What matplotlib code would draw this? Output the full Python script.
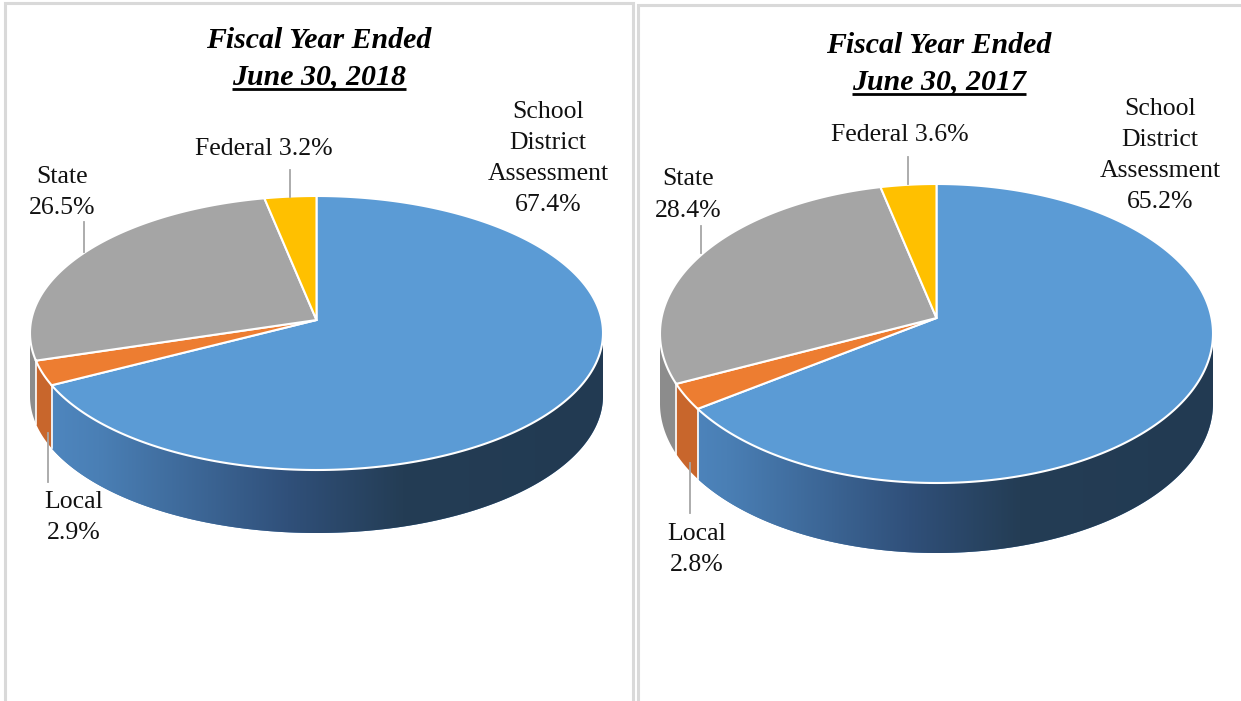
import numpy as np
import matplotlib
matplotlib.use("Agg")
import matplotlib.pyplot as plt
from matplotlib.patches import Polygon
from matplotlib.colors import LinearSegmentedColormap

# ---------------- data ----------------
categories = ["School District Assessment", "Local", "State", "Federal"]
label_names = [["School", "District", "Assessment"], ["Local"], ["State"], ["Federal"]]
values_2018 = [67.4, 2.9, 26.5, 3.2]
values_2017 = [65.2, 2.8, 28.4, 3.6]
titles = [("Fiscal Year Ended", "June 30, 2018"), ("Fiscal Year Ended", "June 30, 2017")]

# ---------------- style ----------------
top_colors = ["#5B9BD5", "#ED7D31", "#A5A5A5", "#FFC000"]
side_colors = ["#4A7FB5", "#C8662C", "#8C8C8C", "#C99A00"]
SERIF = ["Liberation Serif", "DejaVu Serif"]
W, H = 1241, 701

fig = plt.figure(figsize=(W / 100, H / 100), dpi=100)
ax = fig.add_axes([0, 0, 1, 1])
ax.set_xlim(0, W)
ax.set_ylim(H, 0)
ax.axis("off")

# panel borders
bc = "#D9D9D9"
ax.plot([5, 5, 633, 633], [H + 5, 3, 3, H + 5], color=bc, lw=2.2, solid_joinstyle="miter")
ax.plot([638, 638, W + 5], [H + 5, 5, 5], color=bc, lw=2.2, solid_joinstyle="miter")

blue_cmap = LinearSegmentedColormap.from_list(
    "side", [(0.0, "#5089C2"), (0.12, "#4A7FB5"), (0.45, "#30507A"),
             (0.65, "#243D55"), (1.0, "#223A52")])

# geometry of each 3-D pie (screen pixels): centre x, apex y, top y, front y of top face,
# half width, thickness
pies = [
    dict(vals=values_2018, cx=316.5, apex=320, top=196, front=470, rx=286.5, depth=63,
         title=titles[0], tx=319, tb=(48, 84), ul=89,
         labels=[(548, 118, 31), (74, 508, 31), (62, 183, 31), (264, 155, 31)],
         leaders=[None, ((48, 433), (48, 482)), ((84, 222), (84, 252)), ((290, 170), (290, 197))]),
    dict(vals=values_2017, cx=936.5, apex=318, top=184, front=483, rx=276.5, depth=70,
         title=titles[1], tx=939, tb=(53, 89), ul=94,
         labels=[(1160, 115, 31), (697, 540, 31), (688, 185, 32), (900, 141, 31)],
         leaders=[None, ((690, 463), (690, 513)), ((701, 226), (701, 253)), ((908, 157), (908, 184))]),
]

for p in pies:
    up, dn = p["apex"] - p["top"], p["front"] - p["apex"]
    c = (dn - up) / (dn + up)
    p["c"] = c
    p["b"] = up * (1 + c)
    p["a"] = p["rx"] * np.sqrt(1 - c * c)


def proj(p, th):
    """Perspective projection of a point on the pie rim (th clockwise from 12 o'clock)."""
    t = np.radians(th)
    d = 1 + p["c"] * np.cos(t)
    return p["cx"] + p["a"] * np.sin(t) / d, p["apex"] - p["b"] * np.cos(t) / d


for p in pies:
    vals = np.array(p["vals"], dtype=float)
    bounds = np.concatenate([[0], np.cumsum(vals) / vals.sum() * 360.0])
    vis_lo = np.degrees(np.arccos(-p["c"]))
    vis_hi = 360 - vis_lo
    # side walls (front silhouette part)
    for i in range(len(vals)):
        lo, hi = max(bounds[i], vis_lo), min(bounds[i + 1], vis_hi)
        if lo >= hi:
            continue
        ts = np.linspace(lo, hi, 200)
        xs, ys = proj(p, ts)
        pts = np.column_stack([np.concatenate([xs, xs[::-1]]),
                               np.concatenate([ys, ys[::-1] + p["depth"]])])
        poly = Polygon(pts, closed=True, facecolor=side_colors[i], edgecolor="none", zorder=1)
        ax.add_patch(poly)
        if i == 0:
            x0, x1 = p["cx"] - p["rx"], p["cx"] + p["rx"]
            grad = np.linspace(0, 1, 256).reshape(1, -1)
            im = ax.imshow(grad, cmap=blue_cmap,
                           extent=[x0, x1, p["front"] + p["depth"] + 10, p["apex"] - 10],
                           aspect="auto", zorder=1.5, interpolation="bilinear")
            im.set_clip_path(poly)
    # white separators on side
    for b in bounds[1:-1]:
        if vis_lo < b < vis_hi:
            x, y = proj(p, b)
            ax.plot([x, x], [y, y + p["depth"]], color="white", lw=1.2, zorder=2)
    # top faces
    for i in range(len(vals)):
        ts = np.linspace(bounds[i], bounds[i + 1], 300)
        xs, ys = proj(p, ts)
        pts = np.column_stack([np.concatenate([[p["cx"]], xs]), np.concatenate([[p["apex"]], ys])])
        ax.add_patch(Polygon(pts, closed=True, facecolor=top_colors[i], edgecolor="white",
                             lw=1.5, joinstyle="miter", zorder=3))
    # labels
    for i, (lx, ly, step) in enumerate(p["labels"]):
        pct = f"{vals[i]:.1f}%"
        if categories[i] == "Federal":
            lines = [f"Federal {pct}"]
        else:
            lines = label_names[i] + [pct]
        for k, s in enumerate(lines):
            ax.text(lx, ly + k * step, s, ha="center", va="baseline", fontsize=18.5,
                    family=SERIF, color="#111111", zorder=5)
        ld = p["leaders"][i]
        if ld is not None:
            ax.plot([ld[0][0], ld[1][0]], [ld[0][1], ld[1][1]], color="#A6A6A6", lw=1.3, zorder=4)
    # titles
    ax.text(p["tx"], p["tb"][0], p["title"][0], ha="center", va="baseline", fontsize=21.5,
            family=SERIF, fontweight="bold", fontstyle="italic", color="black", zorder=5)
    p["t2"] = ax.text(p["tx"], p["tb"][1], p["title"][1], ha="center", va="baseline", fontsize=21.5,
                      family=SERIF, fontweight="bold", fontstyle="italic", color="black", zorder=5)

# underline the second title line using its rendered extent
fig.canvas.draw()
r = fig.canvas.get_renderer()
inv = ax.transData.inverted()
for p in pies:
    bb = p["t2"].get_window_extent(r)
    (xa, _), (xb, _) = inv.transform([[bb.x0, bb.y0], [bb.x1, bb.y0]])
    ax.plot([xa, xb], [p["ul"], p["ul"]], color="black", lw=2.0, zorder=5, solid_capstyle="butt")

ax.set_xlim(0, W)
ax.set_ylim(H, 0)
fig.savefig("out.png", dpi=100)
